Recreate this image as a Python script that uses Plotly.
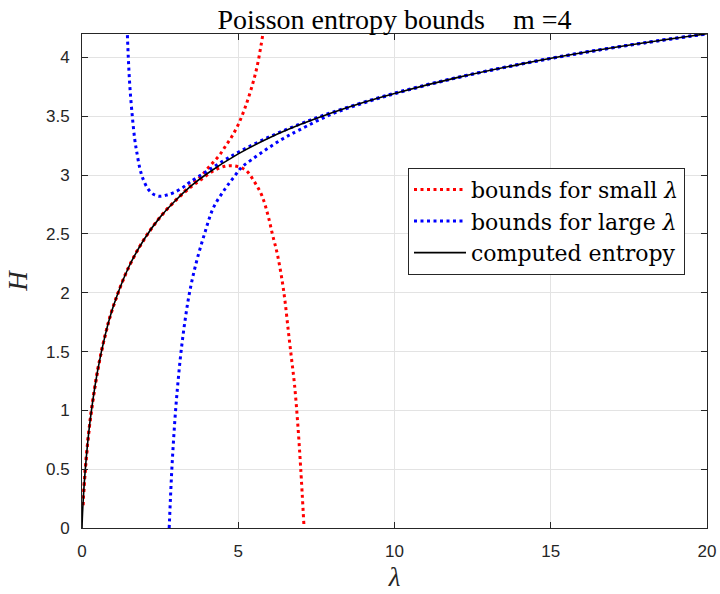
import plotly.graph_objects as go

# Computed Poisson entropy (bits)
lam_ent = [0, 0.01, 0.03, 0.1, 0.25, 0.5, 0.75, 1, 1.5, 2, 2.5, 3, 3.5, 4, 5, 6, 7, 8, 9, 10, 12, 14, 16, 18, 20]
H_ent = [0, 0.081, 0.195, 0.481, 0.891, 1.338, 1.648, 1.883, 2.221, 2.459, 2.643, 2.787, 2.910, 3.012,
         3.181, 3.318, 3.432, 3.531, 3.618, 3.695, 3.829, 3.942, 4.040, 4.125, 4.202]

# Bounds for small lambda (upper and lower)
lam_small_up = [0.03, 0.1, 0.25, 0.5, 0.75, 1, 1.5, 2, 2.5, 3, 3.5, 3.8, 4.0, 4.2, 4.4, 4.6, 4.8, 5.0, 5.2, 5.4, 5.6, 5.79, 5.85]
H_small_up = [0.195, 0.481, 0.891, 1.338, 1.648, 1.883, 2.221, 2.459, 2.643, 2.789, 2.918, 2.99, 3.05, 3.11, 3.17,
              3.25, 3.33, 3.43, 3.56, 3.72, 3.92, 4.20, 4.30]
lam_small_lo = [0.03, 0.1, 0.25, 0.5, 0.75, 1, 1.5, 2, 2.5, 3, 3.5, 3.8, 4.2, 4.57, 4.89, 5.25, 5.5, 5.75, 5.95,
                6.1, 6.25, 6.4, 6.5, 6.6, 6.7, 6.8, 6.9, 7.0, 7.1]
H_small_lo = [0.195, 0.481, 0.891, 1.338, 1.648, 1.883, 2.221, 2.459, 2.643, 2.785, 2.902, 2.96, 3.035, 3.075, 3.078,
              3.04, 2.95, 2.83, 2.66, 2.49, 2.33, 2.11, 1.92, 1.68, 1.45, 1.22, 0.90, 0.50, 0.03]

# Bounds for large lambda (upper and lower)
lam_large_up = [1.44, 1.45, 1.48, 1.53, 1.61, 1.69, 1.75, 1.85, 1.95, 2.12, 2.3, 2.49, 2.7, 2.92, 3.2, 3.45, 3.98,
                4.51, 5.0, 6, 7, 8, 10, 12, 14, 16, 18, 20]
H_large_up = [4.30, 4.21, 4.01, 3.76, 3.50, 3.30, 3.20, 3.06, 2.97, 2.88, 2.835, 2.82, 2.83, 2.85, 2.89, 2.94, 3.03,
              3.12, 3.195, 3.326, 3.437, 3.534, 3.697, 3.830, 3.943, 4.041, 4.126, 4.203]
lam_large_lo = [2.79, 2.83, 2.875, 2.93, 2.995, 3.075, 3.17, 3.29, 3.44, 3.65, 3.92, 4.2, 4.57, 4.85, 5.1, 5.42,
                5.9, 6.43, 6.96, 8, 9, 10, 12, 14, 16, 18, 20]
H_large_lo = [0.0, 0.25, 0.5, 0.75, 1.0, 1.25, 1.5, 1.75, 2.0, 2.25, 2.5, 2.72, 2.88, 2.98, 3.065, 3.13,
              3.22, 3.31, 3.385, 3.52, 3.612, 3.692, 3.828, 3.941, 4.039, 4.124, 4.201]

x_ticks = [0, 5, 10, 15, 20]
y_ticks = [0, 0.5, 1, 1.5, 2, 2.5, 3, 3.5, 4]
y_tick_text = ["0", "0.5", "1", "1.5", "2", "2.5", "3", "3.5", "4"]

RED = "#ff0000"
BLUE = "#0000ff"
DOT = "3px,3.5px"
SERIF = "Liberation Serif, DejaVu Serif, serif"
SERIF_WIDE = "DejaVu Serif, Liberation Serif, serif"
SANS = "Liberation Sans, Arial, sans-serif"

fig = go.Figure()
fig.add_trace(go.Scatter(x=lam_small_up, y=H_small_up, mode="lines", name="bounds for small <i>λ</i>",
                         line=dict(color=RED, width=3, dash=DOT, shape="spline"), legendgroup="s"))
fig.add_trace(go.Scatter(x=lam_small_lo, y=H_small_lo, mode="lines", showlegend=False,
                         line=dict(color=RED, width=3, dash=DOT, shape="spline"), legendgroup="s"))
fig.add_trace(go.Scatter(x=lam_large_up, y=H_large_up, mode="lines", name="bounds for large <i>λ</i>",
                         line=dict(color=BLUE, width=3, dash=DOT, shape="spline"), legendgroup="l"))
fig.add_trace(go.Scatter(x=lam_large_lo, y=H_large_lo, mode="lines", showlegend=False,
                         line=dict(color=BLUE, width=3, dash=DOT, shape="spline"), legendgroup="l"))
fig.add_trace(go.Scatter(x=lam_ent, y=H_ent, mode="lines", name="computed entropy",
                         line=dict(color="black", width=1.6, shape="spline")))

axis_common = dict(
    showline=True, linecolor="#262626", linewidth=1, mirror="ticks",
    ticks="inside", ticklen=6, tickcolor="#262626", tickwidth=1,
    showgrid=True, gridcolor="#e3e3e3", gridwidth=1, zeroline=False,
    automargin=False,
    tickfont=dict(family=SANS, size=17, color="#262626"),
)

fig.update_layout(
    width=720, height=594,
    margin=dict(l=82, r=13, t=34, b=66),
    paper_bgcolor="white", plot_bgcolor="white",
    title=dict(text="Poisson entropy bounds\u00a0\u00a0\u00a0\u00a0m =4", x=0.5, xref="paper",
               y=1 - 19 / 594, yref="container", yanchor="middle", xanchor="center",
               font=dict(family=SERIF, size=28, color="black"), automargin=False),
    xaxis=dict(range=[0, 20], tickvals=x_ticks, ticklabelstandoff=8,
               title=dict(text="<i>λ</i>", font=dict(family=SERIF, size=27, color="#262626"), standoff=6),
               **axis_common),
    yaxis=dict(range=[0, 4.2], tickvals=y_ticks, ticktext=y_tick_text, ticklabelstandoff=8,
               title=dict(text="<i>H</i>", font=dict(family=SERIF, size=27, color="#262626"), standoff=10),
               **axis_common),
    legend=dict(x=0.5216, y=0.7295, xanchor="left", yanchor="top",
                bgcolor="white", bordercolor="#262626", borderwidth=1,
                font=dict(family=SERIF_WIDE, size=22, color="black"),
                tracegroupgap=0, itemwidth=52),
    showlegend=True,
)

fig.write_html("out.html")
